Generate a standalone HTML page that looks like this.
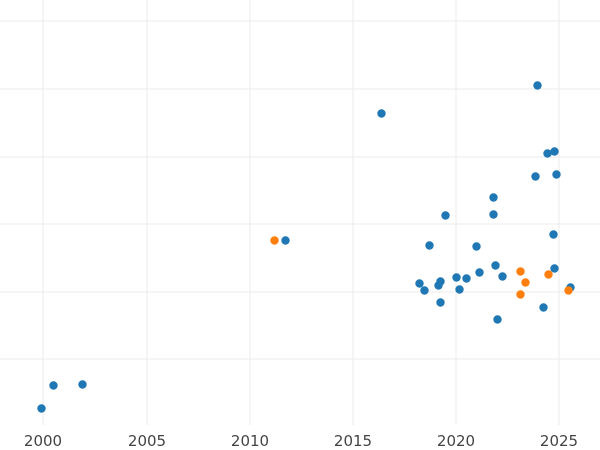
<!DOCTYPE html>
<html><head><meta charset="utf-8"><style>
html,body{margin:0;padding:0;background:#fff;}
svg{display:block;}
text{font-family:"DejaVu Sans","Liberation Sans",sans-serif;font-size:15px;fill:#444;}
</style></head><body>
<svg width="600" height="450" xmlns="http://www.w3.org/2000/svg">
<g stroke="#ebebeb" stroke-width="1">
<line x1="0" y1="21" x2="600" y2="21"/>
<line x1="0" y1="89" x2="600" y2="89"/>
<line x1="0" y1="157" x2="600" y2="157"/>
<line x1="0" y1="224" x2="600" y2="224"/>
<line x1="0" y1="292" x2="600" y2="292"/>
<line x1="0" y1="359" x2="600" y2="359"/>
<line x1="43" y1="0" x2="43" y2="425"/>
<line x1="147" y1="0" x2="147" y2="425"/>
<line x1="250" y1="0" x2="250" y2="425"/>
<line x1="353" y1="0" x2="353" y2="425"/>
<line x1="456" y1="0" x2="456" y2="425"/>
<line x1="559" y1="0" x2="559" y2="425"/>
</g>
<g text-anchor="middle">
<text x="43" y="446">2000</text>
<text x="147" y="446">2005</text>
<text x="250" y="446">2010</text>
<text x="353" y="446">2015</text>
<text x="456" y="446">2020</text>
<text x="559" y="446">2025</text>
</g>
<g transform="translate(0.5,0.5)">
<g fill="#1f77b4">
<circle cx="41" cy="408" r="4.2"/><circle cx="53" cy="385" r="4.2"/><circle cx="82" cy="384" r="4.2"/>
<circle cx="285" cy="240" r="4.2"/><circle cx="381" cy="113" r="4.2"/><circle cx="537" cy="85" r="4.2"/>
<circle cx="547" cy="153" r="4.2"/><circle cx="554" cy="151" r="4.2"/><circle cx="535" cy="176" r="4.2"/>
<circle cx="556" cy="174" r="4.2"/><circle cx="493" cy="197" r="4.2"/><circle cx="445" cy="215" r="4.2"/>
<circle cx="493" cy="214" r="4.2"/><circle cx="553" cy="234" r="4.2"/><circle cx="429" cy="245" r="4.2"/>
<circle cx="476" cy="246" r="4.2"/><circle cx="495" cy="265" r="4.2"/><circle cx="554" cy="268" r="4.2"/>
<circle cx="479" cy="272" r="4.2"/><circle cx="419" cy="283" r="4.2"/><circle cx="440" cy="281" r="4.2"/>
<circle cx="424" cy="290" r="4.2"/><circle cx="438" cy="285" r="4.2"/><circle cx="456" cy="277" r="4.2"/>
<circle cx="466" cy="278" r="4.2"/><circle cx="502" cy="276" r="4.2"/><circle cx="459" cy="289" r="4.2"/>
<circle cx="570" cy="287" r="4.2"/><circle cx="440" cy="302" r="4.2"/><circle cx="543" cy="307" r="4.2"/>
<circle cx="497" cy="319" r="4.2"/>
</g>
<g fill="#ff7f0e">
<circle cx="274" cy="240" r="4.2"/><circle cx="520" cy="271" r="4.2"/><circle cx="525" cy="282" r="4.2"/>
<circle cx="548" cy="274" r="4.2"/><circle cx="520" cy="294" r="4.2"/><circle cx="568" cy="290" r="4.2"/>
</g>
</g>
</svg>
</body></html>
